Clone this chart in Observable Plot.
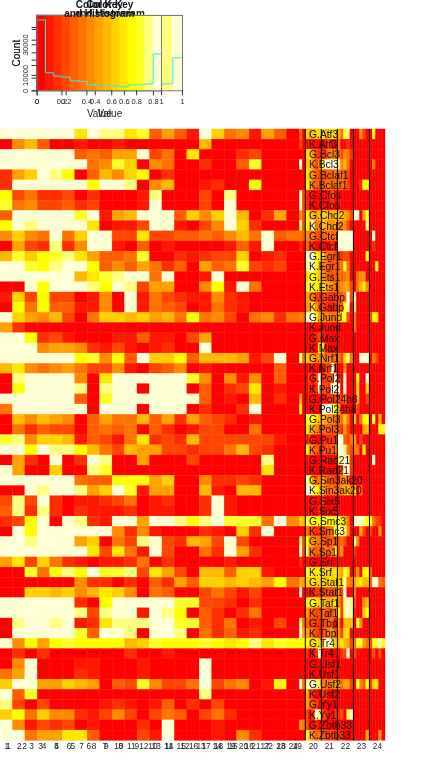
<!DOCTYPE html>
<html>
<head>
<meta charset="utf-8">
<script src="https://cdn.jsdelivr.net/npm/d3@7"></script>
<script src="https://cdn.jsdelivr.net/npm/@observablehq/plot@0.6"></script>
<style>
html,body{margin:0;padding:0;background:#fff;}
#stage{position:relative;width:425px;height:775px;overflow:hidden;filter:blur(0.35px);}
#stage svg{position:absolute;left:0;top:0;background:transparent;}
</style>
</head>
<body>
<div id="stage"></div>
<script>
// heat.colors(15), one colour per key bin
const heatColors = ["#ff0000","#ff1700","#ff2e00","#ff4600","#ff5d00","#ff7400","#ff8b00","#ffa200","#ffb900","#ffd100","#ffe800","#ffff00","#ffff2a","#ffff80","#ffffd5"];
const binLevels = [0,1,2,3,4,5,6,7,8,9,10,11,12,13,14];
const binBreaks = [0,0.0667,0.1333,0.2,0.2667,0.3333,0.4,0.4667,0.5333,0.6,0.6667,0.7333,0.8,0.8667,0.9333,1];
const histCountsFront = [56000,14200,11600,10800,7900,7400,4700,4500,3900,3900,3200,4700,4700,5500,29200];
const histCountsBack = [46000,11800,9500,8800,6500,6100,3900,3700,3200,3200,2600,3900,3900,4600,21500];
const keyTicks = [0,0.2,0.4,0.6,0.8,1];
const rowNames = ["G.Atf3","K.Atf3","G.Bcl3","K.Bcl3","G.Bclaf1","K.Bclaf1","G.Cfos","K.Cfos","G.Chd2","K.Chd2","G.Ctcf","K.Ctcf","G.Egr1","K.Egr1","G.Ets1","K.Ets1","G.Gabp","K.Gabp","G.Jund","K.Jund","G.Max","K.Max","G.Nrf1","K.Nrf1","G.Pol2","K.Pol2","G.Pol24h8","K.Pol24h8","G.Pol3","K.Pol3","G.Pu1","K.Pu1","G.Rad21","K.Rad21","G.Sin3ak20","K.Sin3ak20","G.Six5","K.Six5","G.Smc3","K.Smc3","G.Sp1","K.Sp1","G.Srf","K.Srf","G.Stat1","K.Stat1","G.Taf1","K.Taf1","G.Tbp","K.Tbp","G.Tr4","K.Tr4","G.Usf1","K.Usf1","G.Usf2","K.Usf2","G.Yy1","K.Yy1","G.Zbtb33","K.Zbtb33"];
const columnLabels = ["1","2","3","4","5","6","7","8","9","10","11","12","13","14","15","16","17","18","19","20","21","22","23","24"];
const separatorColumns = ["20","21","22","23","24"];
// one hex digit per cell: the key bin of that cell
const wideRows = [
"eeeeeeaeddac4741e9561740","068400100100000080000000","eeeeee45477e350a00023000","eeeeeee56c9065002004c000",
"279edb04869b020000000000","2eeeeeebeed068001200b000","b35223020001d00030d00000","c56334230001e00030e00000",
"4eeeeece178eee4969e80270","bedeeeea0113ee1036e92000","6965e59ee33a334454685e45","0732d26ee104010000141e00",
"8c9bcda7445c002123390120","eecbdeeb46475240745c3230","eeeeee8acdee5e001e000000","00ebeeedbed377006b1e5000",
"193b330160e1532116210000","0b5b441160e1543015210000","e97683059989785b56305625","720000000000000000000000",
"eeb231000114110370000000","eee6776213101200e0000000","eeeeeebc6b4e99b4888713e0","8a6567533610346010000040",
"0deeee60aeeeeeec60616040","0beeeed0dee0eee04023a010","eeeeee40ceeeeeee40108020","5eeeeee0eee0eee02002e000",
"086876047558472743201000","052433045450420133005000","cd699814315a232833333310","eebeddb85387733233583200",
"0720e02ed007000300000d00","e700900dc000000000000a00","eeeeee544bbb790062232000","00edeed79ec1770081088000",
"3d3e2011235012002e100000","4d2d2021112011002e100000","23be0ed21ee7eedbdeccc5e6","0ebeeeeee626100021092e00",
"eedeee79053de32873e30000","eeeeeeea3a51e30052e72000","7a39521011250200"+"00100000","00c5bdbeccd3a73088499100",
"0000006220204274998987b5","00998968a960540035313000","eeeeee20beeeeecc33202000","eeeeeed3dee1edb042025000",
"0deede12adddeecc42501030","0eeeeec4eed0eed052412000","e6b7bcbbbb89cbbbcbabdacb","020200000020010000000000",
"06e0001100010000e0000000","57e0002100010000e0000000","9ee77987043c6335e35601b0","e4c0000000000000d0000000",
"d30300001210140203000000","9b5966213630354035200000","e613230100020e0001000000","ee577aa400031e0001062000"
];
const narrowRows = [
"5098899a88a985cd0006300b000","300000000300500200000000000","009a63223565636520000000000","e089636beeeed68500000005000",
"00a864333445453300000000000","00b95444454555430002bb00000","e32000000030000000000000000","e32000000020000000000000000",
"63b98789978889763ee07c00000","d3b9e5688667656300000d00000","546554344545eeeee000000e000","204220000020eeeee0000002000",
"00eeeba95443323300000b00000","00deeb85543445c500000000b00","009bba865434545600566000000","00ccbba9876556773058a600000",
"007653223223345e3e000000000","0067b633211234be0d000000000","65eeeb7665557bc30500003ba00","000000000000000005000000000",
"000002300000000000000000000","000000ba2000000000000000000","d59876665555539d500eee05300","0000000032e2006000000000000",
"000303e2233e30e000b00e00000","000202e332eee0e000900900000","800000000223325000800300000","b000000eeeeb800000300000000",
"00ccba88766545950905bb0c080","00a9765444443273000078000bb","000200002222ee4357030000000","00b854333345eed53550b000000",
"000000000000ceed2000000e000","00000000000003ee20000000000","00eb64575433256400000000000","00eedb98545546885a050000000",
"000000020000000000000000000","000000200000000000000000000","98cbbbbcbbbbca950eeedbb5320","00533223345cddd600073030070",
"d3b86554334335300d600000000","e3d65444545a360002000000000","200000000000000000000000000","00cbaaba999a87ca0260bb40000",
"8799a9999a9999d6579a884ee54","e0000222333383e005000000000","00abba99879a63ded3006800000","007543354345c3ded2009b00000",
"d54332233450608880c60000000","e77643234573739a00000000000","bbba9a99eed98a8735cc753bceb","002002e00000023e03000003030",
"000000000000000000000000000","000000000000000000000000000","e5deedc55557757730c64b39a00","008320022000000000000000000",
"007533000000000000000000000","00302ed32002230ce0000000000","753002000000000000000000000","00b964543232220000000700060"
];

const cells = rows => rows.flatMap((row, r) =>
  Array.from(row, (c, i) => ({row: rowNames[r], col: i, level: parseInt(c, 16)})));
const wideCells = cells(wideRows).map(d => ({...d, col: columnLabels[d.col]}));
const narrowCells = cells(narrowRows);

const font = "'Liberation Sans', Arial, sans-serif";
const stage = document.getElementById("stage");
const colorScale = {type: "ordinal", domain: binLevels, range: heatColors};

function keyPlot(right, counts, yMax, yTicks, yLabelled) {
  const bins = binLevels.map((l, i) => ({level: l, x1: binBreaks[i], x2: binBreaks[i + 1], count: counts[i]}));
  const steps = bins.map(b => ({x: b.x1, y: b.count})).concat({x: 1, y: counts[counts.length - 1]});
  return Plot.plot({
    width: 425, height: 125,
    marginTop: 15, marginBottom: 34.7, marginLeft: 36.6, marginRight: 425 - right,
    style: {fontFamily: font, background: "transparent", overflow: "visible"},
    x: {domain: [0, 1]}, y: {domain: [0, yMax]},
    color: colorScale,
    marks: [
      Plot.rect(bins, {x1: "x1", x2: "x2", fill: "level", stroke: "level", strokeWidth: 0.4}),
      Plot.line(steps, {x: "x", y: "y", curve: "step-after", stroke: "#33eedd", strokeWidth: 1}),
      Plot.frame({stroke: "#777"}),
      Plot.axisX({ticks: keyTicks, tickSize: 5, tickPadding: 3, fontSize: 7.5, tickFormat: d => String(d), label: null, stroke: "#333", color: "#222"}),
      Plot.axisY({ticks: yTicks, tickSize: 5, tickPadding: 4, tickRotate: -90, fontSize: 7.5, label: null, stroke: "#333", color: "#222",
        tickFormat: d => yLabelled.includes(d) ? String(d) : ""}),
      Plot.text(["Color Key"], {frameAnchor: "top", dy: -11, lineAnchor: "middle", fontWeight: "bold", fontSize: 10, fill: "#111"}),
      Plot.text(["and Histogram"], {frameAnchor: "top", dy: -2, lineAnchor: "middle", fontWeight: "bold", fontSize: 10, fill: "#111"}),
      Plot.text(["Value"], {frameAnchor: "bottom", dy: 22.5, lineAnchor: "middle", fontSize: 10, fill: "#222"}),
      Plot.text(["Count"], {frameAnchor: "left", textAnchor: "middle", dx: -20.5, rotate: -90, lineAnchor: "middle", fontSize: 10, fill: "#222"})
    ]
  });
}

const heatFrame = {
  width: 425, height: 775, marginTop: 129, marginBottom: 34.7,
  style: {fontFamily: font, background: "transparent", overflow: "visible"},
  y: {type: "band", domain: rowNames, padding: 0, round: false, axis: null},
  color: colorScale
};

const narrowPlot = Plot.plot({
  ...heatFrame, marginLeft: 299, marginRight: 40,
  x: {type: "band", domain: d3.range(27), padding: 0, round: false, axis: null},
  marks: [Plot.cell(narrowCells, {x: "col", y: "row", fill: "level", stroke: "level", strokeWidth: 0.4})]
});

const widePlot = Plot.plot({
  ...heatFrame, marginLeft: 0, marginRight: 126,
  x: {type: "band", domain: columnLabels, padding: 0, round: false},
  marks: [
    Plot.cell(wideCells, {x: "col", y: "row", fill: "level", stroke: "level", strokeWidth: 0.4}),
    Plot.axisX({tickSize: 0, tickPadding: 2, fontSize: 8.3, label: null, color: "#222"})
  ]
});

const overlayPlot = Plot.plot({
  ...heatFrame, marginLeft: 0, marginRight: 40,
  x: {type: "band", domain: columnLabels, padding: 0, round: false},
  marks: [
    Plot.ruleX(separatorColumns, {x: d => d, dx: -8, stroke: "#000", strokeWidth: 1}),
    Plot.text(rowNames, {x: () => "20", y: d => d, text: d => d, textAnchor: "start", dx: -4.3, fontSize: 10.3, fill: "#111"}),
    Plot.axisX({tickSize: 0, tickPadding: 2, fontSize: 8.3, label: null, color: "#222"})
  ]
});

stage.append(
  keyPlot(182, histCountsBack, 49100, [0,10000,20000,30000,40000], [0,10000,30000]),
  keyPlot(161, histCountsFront, 59500, [0,10000,20000,30000,40000,50000], []),
  narrowPlot, widePlot, overlayPlot
);
</script>
</body>
</html>
